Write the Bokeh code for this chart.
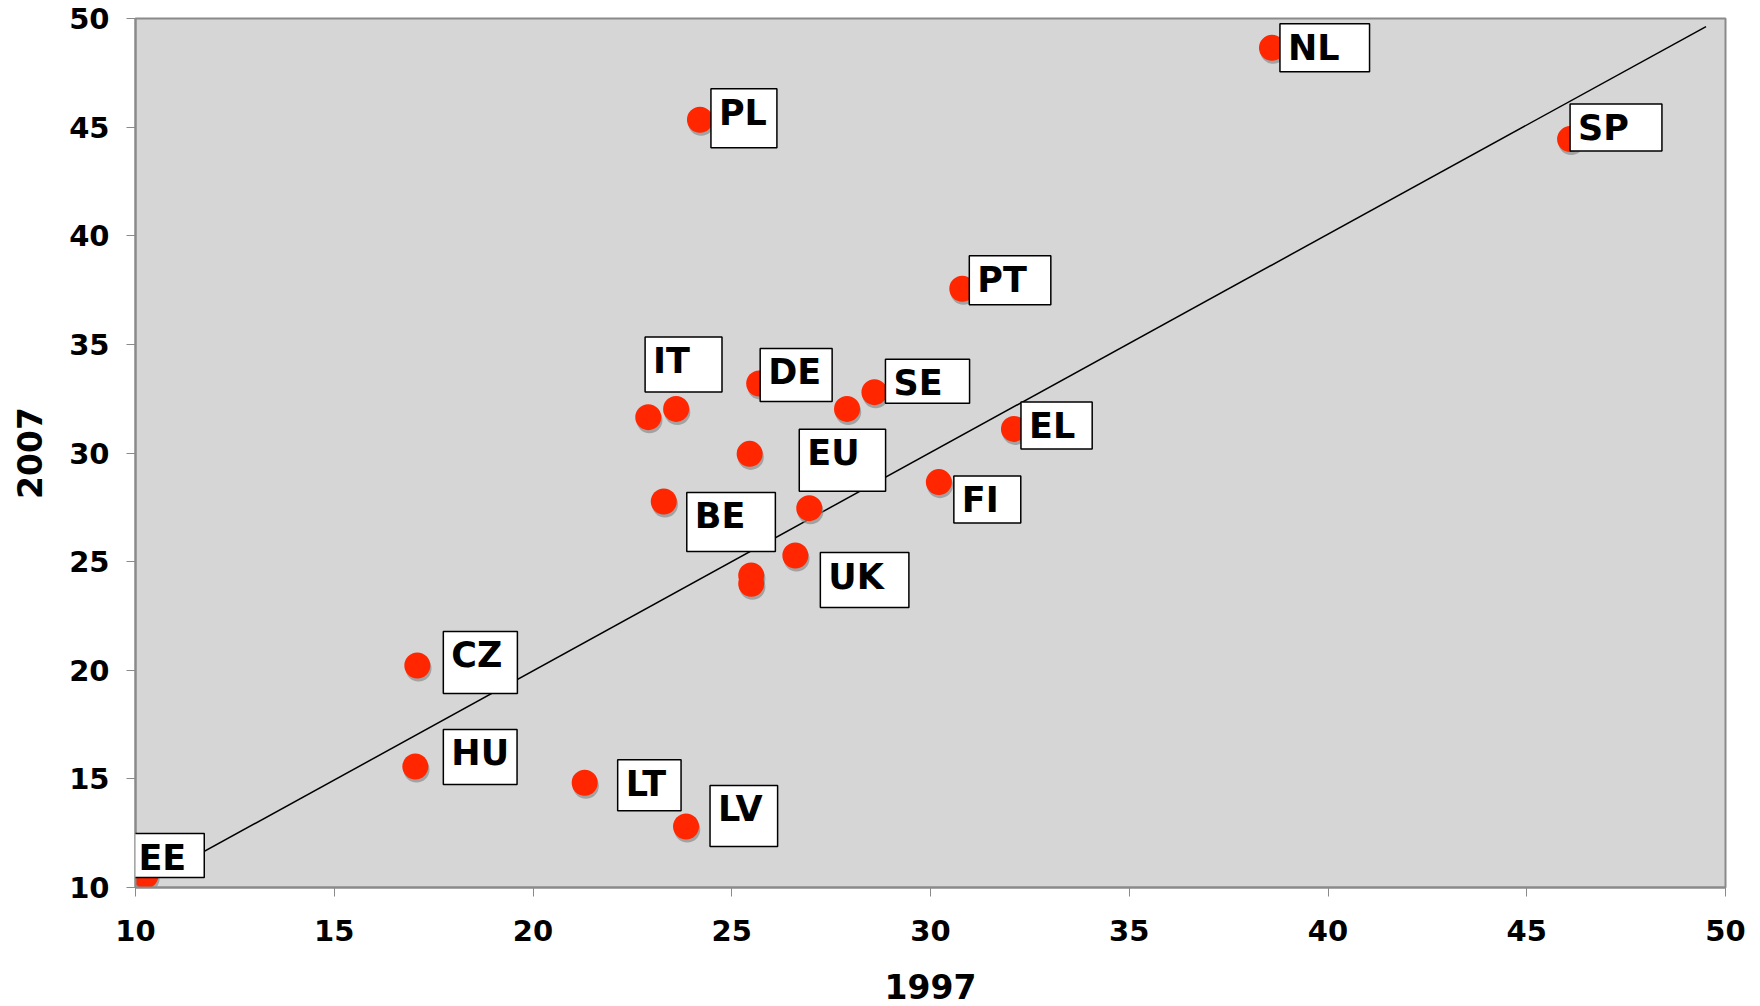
from bokeh.plotting import figure
from bokeh.models import Range1d, SingleIntervalTicker, Label, ColumnDataSource
from bokeh.transform import dodge
from bokeh.embed import file_html
from bokeh.resources import INLINE

# ---------------- data ----------------
labels = ["NL", "PL", "SP", "PT", "DE", "SE", "IT", "EL", "FI",
          "BE", "EU", "UK", "CZ", "HU", "LT", "LV", "EE"]
x1997 = [38.59, 24.20, 46.09, 30.80, 25.69, 28.59, 23.60, 32.10, 30.21,
         23.29, 26.95, 26.60, 17.09, 17.04, 21.30, 23.85, 10.25]
y2007 = [48.65, 45.34, 44.45, 37.56, 33.20, 32.80, 32.03, 31.11, 28.66,
         27.77, 27.46, 25.28, 20.22, 15.57, 14.82, 12.81, 10.55]
# points without a label box
other_x = [22.90, 27.90, 25.45, 25.49, 25.49]
other_y = [31.65, 32.03, 29.96, 24.36, 23.98]
# diagonal reference line end points
line_x = [9.33, 49.51]
line_y = [9.25, 49.63]

# ---------------- label box styling (pixels) ----------------
box_dx = [8, 11, 0, 7, 1, 11, -31, 7, 15, 23, -10, 25, 26, 28, 33, 24, -15]
box_dy = [-24, -31, -35, -33, -35, -33, -72, -27, -6, -9, -79, -3, -34, -37, -23, -41, -42]
box_w = [90, 66, 92, 82, 72, 84, 77, 71, 67, 89, 86, 89, 74, 74, 69, 72, 74]
box_h = [49, 60, 48, 50, 54, 43, 56, 48, 48, 60, 63, 56, 63, 56, 52, 62, 43]

FONT = "DejaVu Sans"
LABEL_FS = 35
GLYPH_W = {"N": 0.837, "L": 0.637, "P": 0.733, "S": 0.720, "T": 0.682,
           "D": 0.830, "E": 0.683, "I": 0.372, "F": 0.683, "B": 0.762,
           "U": 0.812, "C": 0.734, "Z": 0.725, "H": 0.837, "V": 0.774,
           "K": 0.775}


def text_width(t):
    return sum(GLYPH_W.get(c, 0.7) for c in t) * LABEL_FS


p = figure(width=1760, height=1006, output_backend="svg", toolbar_location=None,
           x_range=Range1d(10, 50), y_range=Range1d(10, 50),
           min_border_left=135, min_border_right=35,
           min_border_top=18, min_border_bottom=119)

p.background_fill_color = "#d6d6d6"
p.border_fill_color = "white"
p.outline_line_color = "#8a8a8a"
p.outline_line_width = 2
p.xgrid.visible = False
p.ygrid.visible = False

for ax in (p.xaxis[0], p.yaxis[0]):
    ax.ticker = SingleIntervalTicker(interval=5)
    ax.axis_line_color = "#8a8a8a"
    ax.axis_line_width = 2
    ax.major_tick_line_color = "#8a8a8a"
    ax.major_tick_out = 9
    ax.major_tick_in = 0
    ax.minor_tick_line_color = None
    ax.major_label_text_font = FONT
    ax.major_label_text_font_style = "bold"
    ax.major_label_text_font_size = "29px"
    ax.major_label_text_color = "black"
    ax.axis_label_text_font = FONT
    ax.axis_label_text_font_style = "bold"
    ax.axis_label_text_font_size = "33px"
    ax.axis_label_text_color = "black"

p.xaxis.axis_label = "1997"
p.yaxis.axis_label = "2007"
p.xaxis.major_label_standoff = 23
p.xaxis.axis_label_standoff = 30
p.yaxis.major_label_standoff = 17
p.yaxis.axis_label_standoff = 24
p.yaxis.major_label_orientation = "horizontal"

# diagonal line
p.line(line_x, line_y, line_color="black", line_width=1.5)

all_x = x1997 + other_x
all_y = y2007 + other_y
src = ColumnDataSource(dict(x=all_x, y=all_y))

# shadows
p.scatter(x=dodge("x", 0.03), y=dodge("y", -0.14), source=src, size=26,
          marker="circle", fill_color="#8c8c8c", fill_alpha=0.7, line_color=None)
# points
p.scatter(x="x", y="y", source=src, size=26, marker="circle",
          fill_color="#ff2600", line_color=None)

PAD_L, PAD_T = 8, 4
TEXT_H = 1.164 * LABEL_FS
for t, xv, yv, dx, dy, w, h in zip(labels, x1997, y2007, box_dx, box_dy, box_w, box_h):
    pr = max(0, int(round(w - PAD_L - text_width(t))))
    pb = max(0, int(round(h - PAD_T - TEXT_H)))
    lab = Label(x=xv, y=yv, x_offset=dx, y_offset=-dy, text=t,
                text_font=FONT, text_font_style="bold",
                text_font_size=f"{LABEL_FS}px", text_color="black",
                text_align="left", text_baseline="top",
                background_fill_color="white", background_fill_alpha=1.0,
                border_line_color="black", border_line_width=1.5,
                padding=dict(left=PAD_L, right=pr, top=PAD_T, bottom=pb))
    p.add_layout(lab)

open("out.html", "w").write(file_html(p, INLINE))
